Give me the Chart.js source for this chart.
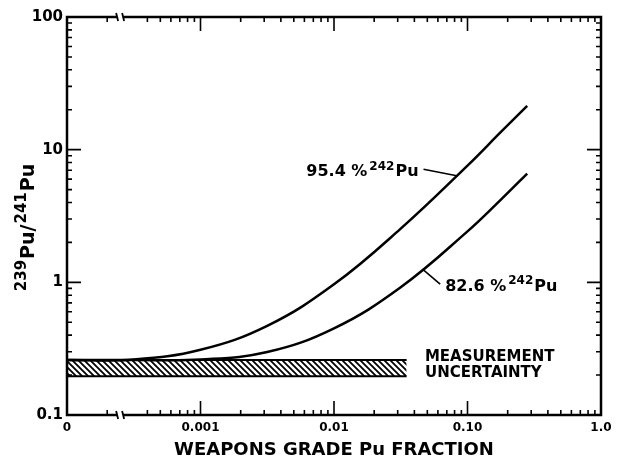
<!DOCTYPE html>
<html>
<head>
<meta charset="utf-8">
<script src="https://cdn.jsdelivr.net/npm/chart.js@4.4.0/dist/chart.umd.min.js"></script>
<style>
  html, body { margin: 0; padding: 0; background: #fff; }
  #wrap { width: 620px; height: 463px; }
</style>
</head>
<body>
<div id="wrap"><canvas id="chart"></canvas></div>
<script>
// weapons grade Pu fraction (x) and 239Pu/241Pu ratio (y)
const fractions = [0.0001, 0.000316, 0.001, 0.00316, 0.01, 0.0316, 0.1, 0.178, 0.28];
const ratio954 = [0.26, 0.262, 0.31, 0.47, 0.966, 2.54, 7.59, 13.6, 21.4];
const ratio826 = [0.26, 0.26, 0.262, 0.298, 0.45, 0.918, 2.42, 4.2, 6.6];

// measurement uncertainty band
const bandX = [0.0001, 0.035];
const bandLow = [0.196, 0.196];
const bandHigh = [0.26, 0.26];

const xTicks = [0.0001, 0.001, 0.01, 0.1, 1];
const xTickLabels = ["0", "0.001", "0.01", "0.10", "1.0"];
const yTicks = [0.1, 1, 10, 100];
const yTickLabels = ["0.1", "1", "10", "100"];
const xBreak = 0.00025;

// curve labels: text start (data coords), leader end on curve (x)
const curveLabels = ["95.4 %", "82.6 %"];
const labelX = [0.0062, 0.068];
const labelY = [6.3, 0.86];
const leaderX = [0.083, 0.046];

const FONT = '"DejaVu Sans", sans-serif';

const minors = (from, to, skip) => {
  const out = [];
  for (let d = from; d < to * 0.99; d *= 10)
    for (let m = 2; m <= 9; m++) if (!(skip && skip(m * d))) out.push(m * d);
  return out;
};
const xMinor = minors(0.0001, 1, v => Math.abs(v - 0.0003) < 1e-9);
const yMinor = minors(0.1, 100);

function hatch() {
  const c = document.createElement("canvas");
  c.width = 6; c.height = 6;
  const g = c.getContext("2d");
  g.strokeStyle = "#000";
  g.lineWidth = 1.8;
  g.beginPath();
  g.moveTo(-1, -1); g.lineTo(7, 7);
  g.moveTo(-1, 5); g.lineTo(1, 7);
  g.moveTo(5, -1); g.lineTo(7, 1);
  g.stroke();
  return g.createPattern(c, "repeat");
}

const toXY = (xs, ys) => xs.map((x, i) => ({ x: x, y: ys[i] }));

function curveAt(xs, ys, v) {
  for (let i = 1; i < xs.length; i++) {
    if (v <= xs[i]) {
      const t = (Math.log(v) - Math.log(xs[i - 1])) / (Math.log(xs[i]) - Math.log(xs[i - 1]));
      return Math.exp(Math.log(ys[i - 1]) + t * (Math.log(ys[i]) - Math.log(ys[i - 1])));
    }
  }
  return ys[ys.length - 1];
}

function isoText(ctx, x, y, pre, mass, post, size) {
  ctx.textBaseline = "alphabetic";
  ctx.textAlign = "left";
  ctx.font = `bold ${size}px ${FONT}`;
  if (pre) { ctx.fillText(pre, x, y); x += ctx.measureText(pre).width + 2; }
  ctx.font = `bold ${Math.round(size * 0.78)}px ${FONT}`;
  ctx.fillText(mass, x, y - size * 0.42);
  x += ctx.measureText(mass).width + 1;
  ctx.font = `bold ${size}px ${FONT}`;
  ctx.fillText(post, x, y);
  return x + ctx.measureText(post).width;
}

const frame = {
  id: "frame",
  afterDatasetsDraw(chart) {
    const { ctx, chartArea: a, scales: { x, y } } = chart;
    ctx.save();
    ctx.strokeStyle = "#000";
    ctx.fillStyle = "#000";

    // ticks, pointing inward on all four sides
    ctx.lineWidth = 1.6;
    ctx.beginPath();
    const xt = (v, len) => {
      const p = x.getPixelForValue(v);
      ctx.moveTo(p, a.bottom); ctx.lineTo(p, a.bottom - len);
      ctx.moveTo(p, a.top); ctx.lineTo(p, a.top + len);
    };
    const yt = (v, len) => {
      const p = y.getPixelForValue(v);
      ctx.moveTo(a.left, p); ctx.lineTo(a.left + len, p);
      ctx.moveTo(a.right, p); ctx.lineTo(a.right - len, p);
    };
    xMinor.forEach(v => xt(v, 5));
    xTicks.forEach(v => xt(v, 14));
    yMinor.forEach(v => yt(v, 5));
    yTicks.forEach(v => yt(v, 14));
    ctx.stroke();

    // frame
    ctx.lineWidth = 2.5;
    ctx.strokeRect(a.left, a.top, a.right - a.left, a.bottom - a.top);

    // axis breaks
    const bp = x.getPixelForValue(xBreak);
    [a.top, a.bottom].forEach(edge => {
      ctx.fillStyle = "#fff";
      ctx.fillRect(bp - 3, edge - 2, 6, 4);
      ctx.lineWidth = 1.8;
      ctx.beginPath();
      ctx.moveTo(bp - 4, edge - 4); ctx.lineTo(bp - 2, edge + 4);
      ctx.moveTo(bp + 2, edge - 4); ctx.lineTo(bp + 4, edge + 4);
      ctx.stroke();
    });
    ctx.fillStyle = "#000";

    // curve labels and leaders
    const series = [ratio954, ratio826];
    ctx.lineWidth = 1.6;
    curveLabels.forEach((t, i) => {
      const lx = x.getPixelForValue(labelX[i]);
      const ly = y.getPixelForValue(labelY[i]);
      const end = isoText(ctx, lx, ly, t, "242", "Pu", 16);
      const cx = x.getPixelForValue(leaderX[i]);
      const cy = y.getPixelForValue(curveAt(fractions, series[i], leaderX[i]));
      ctx.beginPath();
      if (cx > end) { ctx.moveTo(end + 5, ly - 7); }
      else { ctx.moveTo(lx - 5, ly - 7); }
      ctx.lineTo(cx, cy);
      ctx.stroke();
    });

    // band label
    ctx.font = `bold 15px ${FONT}`;
    ctx.textBaseline = "middle";
    ctx.textAlign = "left";
    const bx = x.getPixelForValue(0.048);
    ctx.fillText("MEASUREMENT", bx, y.getPixelForValue(0.273));
    ctx.fillText("UNCERTAINTY", bx, y.getPixelForValue(0.207));

    // y axis title
    ctx.save();
    ctx.translate(27, (a.top + a.bottom) / 2 + 12);
    ctx.rotate(-Math.PI / 2);
    ctx.font = `bold 15px ${FONT}`;
    let w0 = ctx.measureText("239").width * 2 + 2;
    ctx.font = `bold 19px ${FONT}`;
    w0 += ctx.measureText("Pu/Pu").width;
    let px = isoText(ctx, -w0 / 2, 7, "", "239", "Pu/", 19);
    isoText(ctx, px + 1, 7, "", "241", "Pu", 19);
    ctx.restore();

    ctx.restore();
  }
};

new Chart(document.getElementById("chart"), {
  type: "line",
  data: {
    datasets: [
      {
        data: toXY(fractions, ratio954),
        borderColor: "#000", borderWidth: 2.5, pointRadius: 0,
        tension: 0.4, fill: false
      },
      {
        data: toXY(fractions, ratio826),
        borderColor: "#000", borderWidth: 2.5, pointRadius: 0,
        tension: 0.4, fill: false
      },
      {
        data: toXY(bandX, bandLow),
        borderColor: "#000", borderWidth: 2, pointRadius: 0, fill: false
      },
      {
        data: toXY(bandX, bandHigh),
        borderColor: "#000", borderWidth: 2, pointRadius: 0,
        fill: 2, backgroundColor: hatch()
      }
    ]
  },
  options: {
    responsive: true,
    maintainAspectRatio: false,
    animation: false,
    events: [],
    layout: { padding: { left: 0, top: 17, right: 19, bottom: 0 } },
    plugins: { legend: { display: false }, tooltip: { enabled: false } },
    scales: {
      x: {
        type: "logarithmic",
        min: 0.0001,
        max: 1,
        grid: { display: false, drawTicks: false },
        border: { display: false },
        afterBuildTicks: s => { s.ticks = xTicks.map(v => ({ value: v })); },
        afterFit: s => { s.height = 48; },
        ticks: {
          autoSkip: false, maxRotation: 0, padding: 6, color: "#000",
          font: { family: FONT, size: 12, weight: "bold" },
          callback: v => xTickLabels[xTicks.indexOf(v)]
        },
        title: {
          display: true, text: "WEAPONS GRADE Pu FRACTION", color: "#000",
          font: { family: FONT, size: 18, weight: "bold" },
          padding: { top: 0, bottom: 2 }
        }
      },
      y: {
        type: "logarithmic",
        min: 0.1,
        max: 100,
        grid: { display: false, drawTicks: false },
        border: { display: false },
        afterBuildTicks: s => { s.ticks = yTicks.map(v => ({ value: v })); },
        afterFit: s => { s.width = 67; },
        ticks: {
          autoSkip: false, padding: 4, color: "#000",
          font: { family: FONT, size: 15, weight: "bold" },
          callback: v => yTickLabels[yTicks.indexOf(v)]
        }
      }
    }
  },
  plugins: [frame]
});
</script>
</body>
</html>
